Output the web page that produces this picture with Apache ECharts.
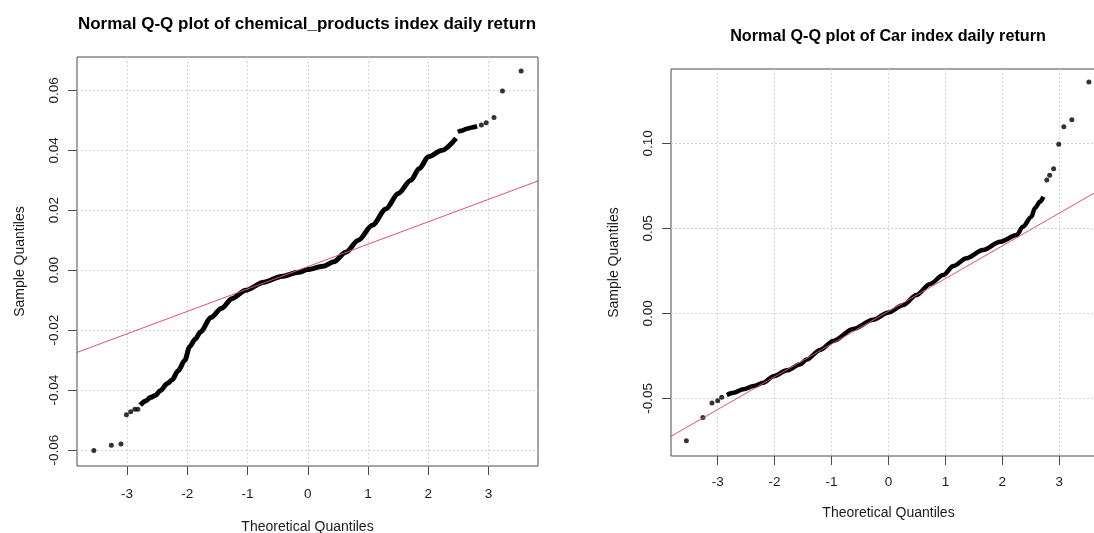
<!DOCTYPE html>
<html>
<head>
<meta charset="utf-8">
<script src="https://cdn.jsdelivr.net/npm/echarts@6/dist/echarts.min.js"></script>
<style>
  html, body { margin: 0; padding: 0; background: #ffffff; }
  #chart { width: 1094px; height: 533px; }
</style>
</head>
<body>
<div id="chart"></div>
<script>
// Tick positions shared by both panels
const xTicks = [-3, -2, -1, 0, 1, 2, 3];
const chemYTicks = [-0.06, -0.04, -0.02, 0, 0.02, 0.04, 0.06];
const carYTicks = [-0.05, 0, 0.05, 0.10];

// chemical_products: [theoretical quantile, sample quantile]
const chemLowTail = [[-3.55, -0.0601], [-3.26, -0.0584], [-3.10, -0.0580], [-3.01, -0.0482],
  [-2.94, -0.0472], [-2.87, -0.0464], [-2.82, -0.0464]];
const chemBody = [[-2.78, -0.0450], [-2.69, -0.0436], [-2.61, -0.0424], [-2.53, -0.0418],
  [-2.45, -0.0402], [-2.33, -0.0378], [-2.25, -0.0365], [-2.15, -0.0335], [-2.04, -0.0300],
  [-1.96, -0.0255], [-1.87, -0.0230], [-1.78, -0.0206], [-1.61, -0.0158], [-1.43, -0.0127],
  [-1.26, -0.0095], [-1.03, -0.0067], [-0.73, -0.0040], [-0.44, -0.0021], [-0.15, -0.0007],
  [0.00, 0.0002], [0.25, 0.0013], [0.43, 0.0028], [0.63, 0.0060], [0.84, 0.0100],
  [1.07, 0.0150], [1.30, 0.0205], [1.50, 0.0256], [1.71, 0.0300], [1.85, 0.0339],
  [2.00, 0.0378], [2.23, 0.0400], [2.46, 0.0440]];
const chemUpperRun = [[2.49, 0.0461], [2.55, 0.0465], [2.64, 0.0472], [2.72, 0.0476], [2.81, 0.0480]];
const chemHighTail = [[2.88, 0.0484], [2.96, 0.0492], [3.09, 0.0509], [3.23, 0.0598], [3.54, 0.0664]];
const chemRefLine = [[-4, -0.0287], [4, 0.0311]];

// Car: [theoretical quantile, sample quantile]
const carLowTail = [[-3.55, -0.0749], [-3.26, -0.0612], [-3.10, -0.0528], [-3.00, -0.0514], [-2.93, -0.0494]];
const carBody = [[-2.84, -0.0480], [-2.72, -0.0467], [-2.55, -0.0447], [-2.37, -0.0428],
  [-2.20, -0.0408], [-2.02, -0.0370], [-1.78, -0.0335], [-1.55, -0.0300], [-1.44, -0.0272],
  [-1.20, -0.0215], [-0.97, -0.0162], [-0.62, -0.0092], [-0.27, -0.0038], [0.00, 0.0005],
  [0.26, 0.0049], [0.49, 0.0108], [0.73, 0.0173], [0.96, 0.0225], [1.14, 0.0278],
  [1.37, 0.0324], [1.66, 0.0372], [1.96, 0.0421], [2.25, 0.0460], [2.36, 0.0509],
  [2.51, 0.0568], [2.57, 0.0618], [2.66, 0.0656], [2.72, 0.0686]];
const carHighTail = [[2.78, 0.0784], [2.83, 0.0812], [2.90, 0.0851], [2.99, 0.0994],
  [3.08, 0.1098], [3.22, 0.1139], [3.52, 0.1360]];
const carRefLine = [[-4, -0.0758], [4, 0.0782]];

const FONT = '"Liberation Sans", Arial, sans-serif';
const TEXT = '#1a1a1a';
const AXIS = '#4a4a4a';
const GRIDLINE = { color: '#d3d3d3', width: 1, type: [2, 2] };
const REF = '#df536b';

function xAxis(gridIndex, min, max, nameGap, labelMargin) {
  return {
    type: 'value', gridIndex, min, max,
    name: 'Theoretical Quantiles', nameLocation: 'middle', nameGap,
    nameTextStyle: { fontFamily: FONT, fontSize: 14, color: TEXT },
    axisLine: { show: false, onZero: false },
    axisTick: { show: true, customValues: xTicks, length: 9, lineStyle: { color: AXIS } },
    axisLabel: { customValues: xTicks, margin: labelMargin, fontFamily: FONT, fontSize: 13.5,
      color: TEXT, formatter: v => String(v) },
    splitLine: { show: true, lineStyle: GRIDLINE }
  };
}

function yAxis(gridIndex, min, max, ticks, nameGap, labelMargin) {
  return {
    type: 'value', gridIndex, min, max,
    name: 'Sample Quantiles', nameLocation: 'middle', nameGap, nameRotate: 90,
    nameTextStyle: { fontFamily: FONT, fontSize: 14, color: TEXT },
    axisLine: { show: false, onZero: false },
    axisTick: { show: true, customValues: ticks, length: 9, lineStyle: { color: AXIS } },
    axisLabel: { customValues: ticks, rotate: 90, margin: labelMargin, fontFamily: FONT,
      fontSize: 13.5, color: TEXT, formatter: v => v.toFixed(2) },
    splitLine: { show: true, lineStyle: GRIDLINE }
  };
}

function dots(idx, data) {
  return { type: 'scatter', xAxisIndex: idx, yAxisIndex: idx, data, symbol: 'circle',
    symbolSize: 5, itemStyle: { color: '#000' }, silent: true, z: 3 };
}
function band(idx, data, width) {
  return { type: 'line', xAxisIndex: idx, yAxisIndex: idx, data, smooth: 0.3,
    smoothMonotone: 'x', showSymbol: false, lineStyle: { color: '#000', width },
    silent: true, z: 3 };
}
function refLine(idx, data) {
  return { type: 'line', xAxisIndex: idx, yAxisIndex: idx, data, showSymbol: false,
    lineStyle: { color: REF, width: 1 }, silent: true, z: 4 };
}

const chart = echarts.init(document.getElementById('chart'), null, { renderer: 'canvas' });
chart.setOption({
  animation: false,
  backgroundColor: '#ffffff',
  title: [
    { text: 'Normal Q-Q plot of chemical_products index daily return', left: 307, top: 16,
      textAlign: 'center', padding: 0,
      textStyle: { fontFamily: FONT, fontSize: 17, fontWeight: 'bold', color: '#000' } },
    { text: 'Normal Q-Q plot of Car index daily return', left: 888, top: 29,
      textAlign: 'center', padding: 0,
      textStyle: { fontFamily: FONT, fontSize: 16.2, fontWeight: 'bold', color: '#000' } }
  ],
  grid: [
    { left: 77, top: 57, width: 461, height: 409, show: true, borderColor: AXIS, borderWidth: 1,
      backgroundColor: 'transparent', outerBoundsMode: 'none', containLabel: false },
    { left: 671, top: 69, width: 435, height: 387, show: true, borderColor: AXIS, borderWidth: 1,
      backgroundColor: 'transparent', outerBoundsMode: 'none', containLabel: false }
  ],
  xAxis: [xAxis(0, -3.83, 3.82, 54, 21), xAxis(1, -3.82, 3.82, 50, 19.5)],
  yAxis: [yAxis(0, -0.0653, 0.0711, chemYTicks, 50, 16), yAxis(1, -0.0839, 0.1437, carYTicks, 49.5, 16)],
  series: [
    dots(0, chemLowTail), band(0, chemBody, 5), band(0, chemUpperRun, 4.5), dots(0, chemHighTail),
    refLine(0, chemRefLine),
    dots(1, carLowTail), band(1, carBody, 4.5), dots(1, carHighTail),
    refLine(1, carRefLine)
  ]
});
</script>
</body>
</html>
